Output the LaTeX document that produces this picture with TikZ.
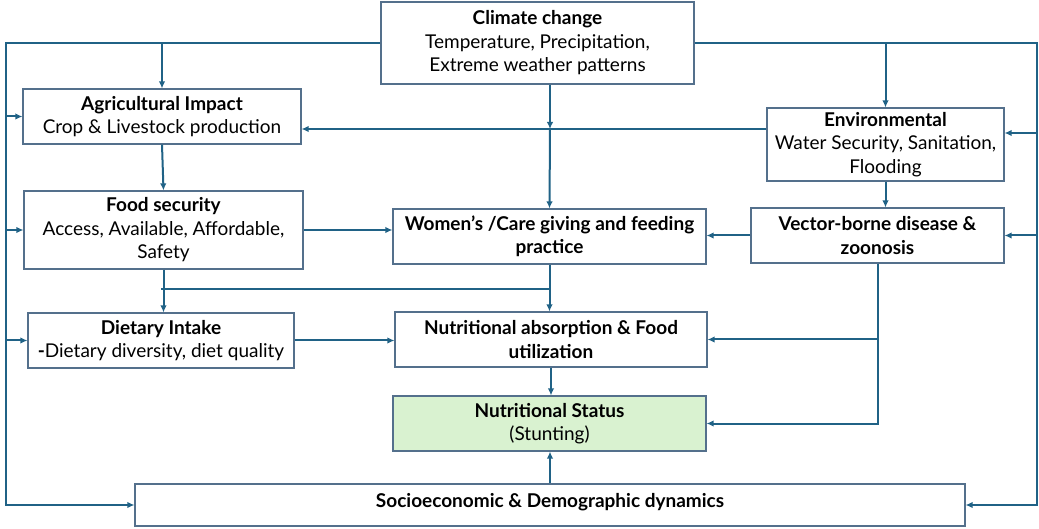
\documentclass[tikz,border=0pt]{standalone}
\usepackage{fontspec}
\setmainfont{Lato}
\usetikzlibrary{arrows.meta}
\definecolor{linkblue}{RGB}{32,98,134}
\definecolor{boxedge}{RGB}{84,112,140}
\definecolor{statusgreen}{RGB}{217,242,208}
\tikzset{
  box/.style={draw=boxedge, line width=1.2pt, fill=white, align=center, inner sep=2pt,
    font=\fontsize{19}{23.5}\selectfont},
  link/.style={draw=linkblue, line width=2pt, -{Latex[length=7pt,width=6.5pt]}},
  plain/.style={draw=linkblue, line width=2pt},
}
\begin{document}
\begin{tikzpicture}[x=1pt, y=-1pt]
  \useasboundingbox (0,0) rectangle (1039,529);

  % boxes
  \node[box, minimum width=313pt, minimum height=82pt] (climate) at (537.5,43)
    {\textbf{Climate change}\\Temperature, Precipitation,\\Extreme weather patterns};
  \node[box, minimum width=278pt, minimum height=55pt] (agri) at (162,116.5)
    {\textbf{Agricultural Impact}\\Crop \& Livestock production};
  \node[box, minimum width=279pt, minimum height=78pt] (food) at (163.5,230)
    {\textbf{Food security}\\Access, Available, Affordable,\\Safety};
  \node[box, minimum width=266pt, minimum height=55pt] (diet) at (161,340.5)
    {\textbf{Dietary Intake}\\\textbf{-}Dietary diversity, diet quality};
  \node[box, minimum width=313pt, minimum height=55pt] (women) at (549.5,236.5)
    {\textbf{Women’s /Care giving and feeding}\\\textbf{practice}};
  \node[box, minimum width=312pt, minimum height=55pt] (absorb) at (551,339.5)
    {\textbf{Nutritional absorption \& Food}\\\textbf{utilization}};
  \node[box, fill=statusgreen, minimum width=313pt, minimum height=55pt] (status) at (549.5,423.5)
    {\textbf{Nutritional Status}\\(Stunting)};
  \node[box, minimum width=830pt, minimum height=42pt] (socio) at (550,505)
    {\raisebox{9pt}{\textbf{Socioeconomic \& Demographic dynamics}}};
  \node[box, minimum width=237pt, minimum height=73pt] (envir) at (885.5,144.5)
    {\textbf{Environmental}\\Water Security, Sanitation,\\Flooding};
  \node[box, minimum width=253pt, minimum height=55pt] (vector) at (877.5,235.5)
    {\textbf{Vector-borne disease \&}\\\textbf{zoonosis}};

  % trunks from climate change
  \coordinate (lt) at (6,43);
  \coordinate (rt) at (1037,43);
  \coordinate (cj) at (550,129);
  \coordinate (fj) at (161,289);
  \draw[link] (climate.west) -- (lt) |- (socio.west);
  \draw[link] (agri.west -| lt) -- (agri.west);
  \draw[link] (food.west -| lt) -- (food.west);
  \draw[link] (diet.west -| lt) -- (diet.west);
  \draw[link] (climate.west -| agri.north) -- (agri.north);
  \draw[link] (climate.east) -- (rt) |- (socio.east);
  \draw[link] ([yshift=11.5pt]envir.east -| rt) -- ([yshift=11.5pt]envir.east);
  \draw[link] (vector.east -| rt) -- (vector.east);
  \draw[link] (climate.east -| envir.north) -- (envir.north);
  \draw[link] (climate.south -| cj) -- (cj);
  \draw[link] (cj) -- (women.north);

  % links between boxes
  \draw[link] ([yshift=15.5pt]envir.west) -- ([yshift=-12.5pt]agri.east);
  \draw[link] (agri.south) -- (food.north);
  \draw[link] (food.east) -- (food.east -| women.west);
  \draw[link] (food.south) -- (food.south |- diet.north);
  \draw[plain] (fj) -- (fj -| women.south);
  \draw[link] (women.south) -- (women.south |- absorb.north);
  \draw[link] (diet.east) -- (diet.east -| absorb.west);
  \draw[link] (absorb.south) -- (absorb.south |- status.north);
  \draw[link] (socio.north) -- (socio.north |- status.south);
  \draw[link] (vector.west) -- (vector.west -| women.east);
  \draw[link] (envir.south) -- (envir.south |- vector.north);
  \draw[link] (vector.south) |- (status.east);
  \draw[link] (vector.south |- absorb.east) -- (absorb.east);
\end{tikzpicture}
\end{document}
